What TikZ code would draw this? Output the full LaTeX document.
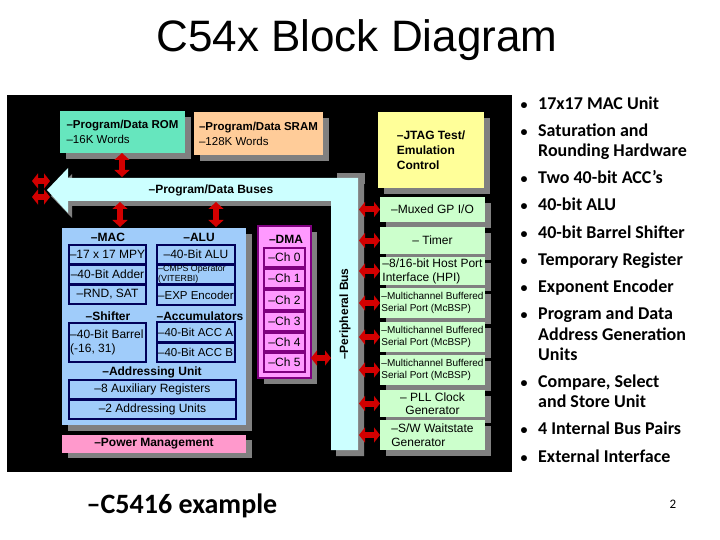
\documentclass[tikz,border=0pt]{standalone}
\usepackage{fontspec}
\setmainfont{Liberation Sans}
\newfontfamily\calfont{Carlito}
\usetikzlibrary{arrows.meta,shadows}
\definecolor{romgreen}{RGB}{102,230,190}
\definecolor{sramorange}{RGB}{255,204,153}
\definecolor{jtagyellow}{RGB}{255,255,153}
\definecolor{perigreen}{RGB}{204,255,204}
\definecolor{buscyan}{RGB}{204,255,255}
\definecolor{cpublue}{RGB}{160,204,250}
\definecolor{dmapink}{RGB}{255,153,255}
\definecolor{powerpink}{RGB}{255,153,204}
\definecolor{shgray}{RGB}{128,128,128}
\definecolor{arrowred}{RGB}{210,0,0}
\definecolor{navy}{RGB}{0,0,90}
\definecolor{dmapurple}{RGB}{128,0,128}
\begin{document}
\begin{tikzpicture}[x=1pt,y=-1pt,
  base/.style={inner sep=0pt,outer sep=0pt,anchor=north west},
  shd/.style={drop shadow={shadow xshift=6pt,shadow yshift=-6pt,fill=shgray,opacity=1}},
  f12/.style={font=\fontsize{12}{14}\selectfont},
  b12/.style={font=\bfseries\fontsize{12}{14}\selectfont},
  inbox/.style={base,draw=navy,line width=1.8pt,fill=cpublue,font=\fontsize{12}{14}\selectfont},
  chbox/.style={base,draw=dmapurple,line width=1.5pt,fill=dmapink,minimum width=41,font=\fontsize{12}{14}\selectfont},
  pbox/.style={base,fill=perigreen,shd,minimum width=105,font=\fontsize{12}{14}\selectfont},
  redarrow/.style={draw=arrowred,line width=6pt,{Triangle[width=15pt,length=6pt]}-{Triangle[width=15pt,length=6pt]}},
  redarrowv/.style={draw=arrowred,line width=6pt,{Triangle[width=15pt,length=7pt]}-{Triangle[width=15pt,length=7pt]}},
  bul/.style={font=\calfont\bfseries\fontsize{18}{20}\selectfont,anchor=base west,inner sep=0pt},
  dot/.style={font=\calfont\bfseries\fontsize{14}{20}\selectfont,anchor=base,inner sep=0pt}
]
\useasboundingbox (0,0) rectangle (720,540);
\fill[white] (0,0) rectangle (720,540);
\node[font=\fontsize{44}{50}\selectfont] (title) at (357,40) {C54x Block Diagram};

% black background
\node[base,fill=black,minimum width=505,minimum height=377] (bg) at (7,95) {};

% memories
\node[base,fill=romgreen,shd,minimum width=125,minimum height=42,align=left,font=\fontsize{11.5}{15}\selectfont] (rom) at (60,111) {\textbf{–Program/Data ROM}\\–16K Words};
\node[base,fill=sramorange,shd,minimum width=129,minimum height=43,align=left,font=\fontsize{11.5}{15}\selectfont] (sram) at (194,112) {\textbf{–Program/Data SRAM}\\–128K Words};
\node[base,fill=jtagyellow,shd,minimum width=106,minimum height=76,align=left,font=\bfseries\fontsize{12}{15}\selectfont] (jtag) at (378,112) {–JTAG Test/\\Emulation\\Control};

% buses
\fill[shgray] (51,196) -- (72,174) -- (72,184) -- (364,184) -- (364,456) -- (336,456) -- (336,206) -- (72,206) -- (72,218) -- cycle;
\fill[shgray] (337,173) rectangle (365,184);
\fill[buscyan] (47,190) -- (68,168) -- (68,178) -- (358,178) -- (358,450) -- (331,450) -- (331,201) -- (68,201) -- (68,213) -- cycle;
\node[b12] (buslbl) at (211,190) {–Program/Data Buses};
\node[b12,rotate=90] (pbuslbl) at (345,314) {–Peripheral Bus};
\node[font=\bfseries\fontsize{10}{10}\selectfont,inner sep=0pt] (n3) at (51,208) {3};

% CPU block
\node[base,fill=cpublue,shd,minimum width=184,minimum height=197] (cpu) at (62,228) {};
\node[b12] (maclbl) at (108,237) {–MAC};
\node[b12] (alulbl) at (199,237) {–ALU};
\node[inbox,minimum width=77,minimum height=19] (mpy) at (69,245) {–17 x 17 MPY};
\node[inbox,minimum width=77,minimum height=19] (add) at (69,265) {–40-Bit Adder};
\node[inbox,minimum width=77,minimum height=19] (rnd) at (69,285) {–RND, SAT};
\node[inbox,minimum width=78,minimum height=19] (alu) at (157,245) {–40-Bit ALU};
\node[inbox,minimum width=78,minimum height=19] (cmps) at (157,265) {};
\node[anchor=west,inner sep=0pt,align=left,font=\fontsize{8.8}{9.5}\selectfont] (cmpst) at ([xshift=1pt]cmps.west) {–CMPS Operator\\(VITERBI)};
\node[inbox,minimum width=78,minimum height=20] (exp) at (157,285) {};
\node[anchor=west,inner sep=0pt,font=\fontsize{11.5}{14}\selectfont] (expt) at ([xshift=1pt]exp.west) {–EXP Encoder};
\node[b12] (shlbl) at (108,316) {–Shifter};
\node[b12] (acclbl) at (200,316) {–Accumulators};
\node[inbox,minimum width=77,minimum height=39] (shf) at (69,323) {};
\node[anchor=west,inner sep=0pt,align=left,font=\fontsize{12}{14}\selectfont] (shft) at ([xshift=1pt]shf.west) {–40-Bit Barrel\\(-16, 31)};
\node[inbox,minimum width=78,minimum height=20] (acca) at (157,322) {};
\node[anchor=west,inner sep=0pt,font=\fontsize{11.5}{14}\selectfont] (accat) at ([xshift=1pt]acca.west) {–40-Bit ACC A};
\node[inbox,minimum width=78,minimum height=19] (accb) at (157,343) {};
\node[anchor=west,inner sep=0pt,font=\fontsize{11.5}{14}\selectfont] (accbt) at ([xshift=1pt]accb.west) {–40-Bit ACC B};
\node[b12] (addrlbl) at (152,372) {–Addressing Unit};
\node[inbox,minimum width=167,minimum height=19] (aux) at (69,380) {–8 Auxiliary Registers};
\node[inbox,minimum width=167,minimum height=19] (au) at (69,400) {–2 Addressing Units};

% power management
\node[base,fill=powerpink,drop shadow={shadow xshift=6pt,shadow yshift=-5pt,fill=shgray,opacity=1},minimum width=184,minimum height=18,font=\bfseries\fontsize{12}{14}\selectfont] (pwr) at (62,435) {–Power Management};

% DMA
\node[base,fill=dmapink,draw=dmapurple,line width=1.8pt,shd,minimum width=53,minimum height=152] (dma) at (258,226) {};
\node[b12] (dmalbl) at (286,239) {–DMA};
\node[chbox,minimum height=19] (ch0) at (264,248) {–Ch 0};
\node[chbox,minimum height=19] (ch1) at (264,269) {–Ch 1};
\node[chbox,minimum height=20] (ch2) at (264,290) {–Ch 2};
\node[chbox,minimum height=19] (ch3) at (264,312) {–Ch 3};
\node[chbox,minimum height=18] (ch4) at (264,333) {–Ch 4};
\node[chbox,minimum height=19] (ch5) at (264,353) {–Ch 5};

% peripherals
\node[pbox,minimum height=25] (gpio) at (380,197) {–Muxed GP I/O};
\node[pbox,minimum height=27] (timer) at (380,227) {– Timer};
\node[pbox,minimum height=28,align=left] (hpi) at (380,257) {–8/16-bit Host Port\\Interface (HPI)};
\node[pbox,minimum height=30,align=left,font=\fontsize{10}{12}\selectfont] (mcb1) at (380,288) {–Multichannel Buffered\\Serial Port (McBSP)};
\node[pbox,minimum height=30,align=left,font=\fontsize{10}{12}\selectfont] (mcb2) at (380,322) {–Multichannel Buffered\\Serial Port (McBSP)};
\node[pbox,minimum height=30,align=left,font=\fontsize{10}{12}\selectfont] (mcb3) at (380,355) {–Multichannel Buffered\\Serial Port (McBSP)};
\node[pbox,minimum height=27,align=center,font=\fontsize{12}{13.5}\selectfont] (pll) at (380,390) {– PLL Clock\\Generator};
\node[pbox,minimum height=30,align=left,font=\fontsize{12}{13.5}\selectfont] (sw) at (380,420) {–S/W Waitstate\\Generator};

% connector end points on the buses
\coordinate (pbusR) at (359,0);
\coordinate (pbusL) at (331,0);
\coordinate (busTop) at (0,177);
\coordinate (busBot) at (0,202);
\coordinate (extL) at (32,0);
\coordinate (extR) at (50,0);
\coordinate (e1) at (0,181);
\coordinate (e2) at (0,197);
\coordinate (dmaArr) at (0,358);
\coordinate (xa) at (122,0);
\coordinate (xb) at (120,0);
\coordinate (xc) at (216,0);
\coordinate (cpuTop) at (0,227);

% red arrows
\draw[redarrowv] (rom.south -| xa) -- (busTop -| xa);
\draw[redarrowv] (busBot -| xb) -- (cpuTop -| xb);
\draw[redarrowv] (busBot -| xc) -- (cpuTop -| xc);
\draw[redarrow] (e1 -| extL) -- (e1 -| extR);
\draw[redarrow] (e2 -| extL) -- (e2 -| extR);
\draw[redarrow] (dmaArr -| dma.east) -- (dmaArr -| pbusL);
\foreach \p in {gpio,timer,hpi,mcb1,mcb2,mcb3,pll,sw}
  \draw[redarrow] (\p.west -| pbusR) -- (\p.west);

% example label and page number
\node[font=\calfont\bfseries\fontsize{28}{30}\selectfont,anchor=base] (ex) at (182,513) {–C5416 example};
\node[font=\calfont\fontsize{13}{15}\selectfont] (pg) at (673,504) {2};

% bullet list
\node[dot] (d1) at (524,110) {•};  \node[bul] (t1) at (538,110) {17x17 MAC Unit};
\node[dot] (d2) at (524,137) {•};  \node[bul] (t2) at (538,137) {Saturation and};
                                    \node[bul] (t2b) at (538,157) {Rounding Hardware};
\node[dot] (d3) at (524,184) {•};  \node[bul] (t3) at (538,184) {Two 40-bit ACC’s};
\node[dot] (d4) at (524,211) {•};  \node[bul] (t4) at (538,211) {40-bit ALU};
\node[dot] (d5) at (524,238) {•};  \node[bul] (t5) at (538,238) {40-bit Barrel Shifter};
\node[dot] (d6) at (524,265) {•};  \node[bul] (t6) at (538,265) {Temporary Register};
\node[dot] (d7) at (524,292) {•};  \node[bul] (t7) at (538,292) {Exponent Encoder};
\node[dot] (d8) at (524,319) {•};  \node[bul] (t8) at (538,319) {Program and Data};
                                    \node[bul] (t8b) at (538,340) {Address Generation};
                                    \node[bul] (t8c) at (538,360) {Units};
\node[dot] (d9) at (524,387) {•};  \node[bul] (t9) at (538,387) {Compare, Select};
                                    \node[bul] (t9b) at (538,407) {and Store Unit};
\node[dot] (d10) at (524,434) {•}; \node[bul] (t10) at (538,434) {4 Internal Bus Pairs};
\node[dot] (d11) at (524,462) {•}; \node[bul] (t11) at (538,462) {External Interface};
\end{tikzpicture}
\end{document}
